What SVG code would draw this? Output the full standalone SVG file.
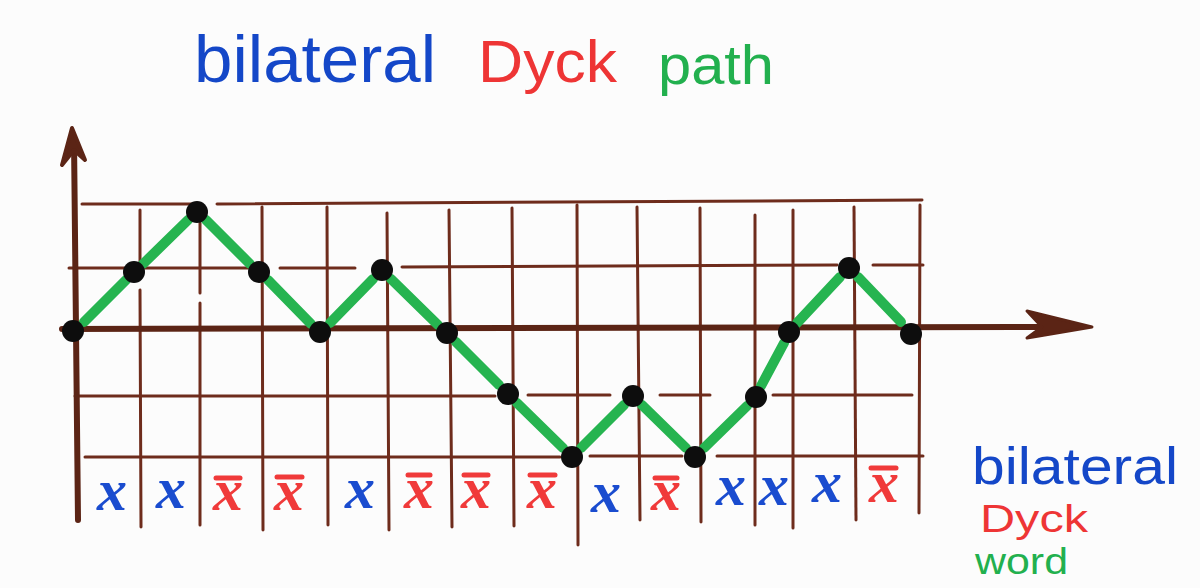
<svg xmlns="http://www.w3.org/2000/svg" width="1200" height="588" viewBox="0 0 1200 588">
<style>
.g{stroke:#6e2c1c;stroke-width:3;stroke-linecap:round;fill:none}
.ax{stroke:#5b2415;stroke-width:6;stroke-linecap:round;fill:none}
.seg{stroke:#26b450;stroke-width:10;stroke-linecap:round}
.dot{fill:#0d0d0d}
.lx{font-family:"Liberation Serif",serif;font-style:italic;font-weight:bold;font-size:60px;text-anchor:middle}
.b{fill:#1a4ccf}
.r{fill:#f03a3a}
.bar{stroke:#f03a3a;stroke-width:5;stroke-linecap:round}
.t{font-family:"Liberation Sans",sans-serif}
</style>
<rect width="1200" height="588" fill="#fcfcfc"/>
<g id="grid">
<path class="g" d="M82,204 L195,204 M217,204 L922,200"/>
<path class="g" d="M69,268 L248,268 M280,268 L355,268 M402,267 L837,265 M873,265 L923,265"/>
<path class="g" d="M75,396 L495,396 M528,395 L610,395 M660,395 L710,395 M773,395 L912,395"/>
<path class="g" d="M85,457 L560,457 M590,456 L682,456 M717,456 L923,456"/>
<path class="g" d="M140,210 L140,263 M140,290 L141,527"/>
<path class="g" d="M200,223 L200,293 M200,303 L200,525"/>
<path class="g" d="M262,207 L263,530"/>
<path class="g" d="M327,207 L328,525"/>
<path class="g" d="M387,213 L389,530"/>
<path class="g" d="M449,210 L452,527"/>
<path class="g" d="M512,208 L514,526"/>
<path class="g" d="M577,205 L578,545"/>
<path class="g" d="M637,207 L640,520"/>
<path class="g" d="M700,208 L701,522"/>
<path class="g" d="M755,215 L755,525"/>
<path class="g" d="M793,210 L793,528"/>
<path class="g" d="M854,207 L856,520"/>
<path class="g" d="M920,205 L919,513"/>
</g>
<g id="axes">
<path class="ax" d="M78,520 L74,140"/>
<path d="M62,165 L72,128 L85,160 L74,150 Z" fill="#5b2415" stroke="#5b2415" stroke-width="4" stroke-linejoin="round"/>
<path class="ax" d="M62,329 L1060,327"/>
<path d="M1027,311 L1092,327 L1027,338 L1042,327 Z" fill="#5b2415" stroke="#5b2415" stroke-width="3" stroke-linejoin="round"/>
</g>
<g id="connectors">
<line class="seg" x1="84" y1="322" x2="126" y2="280"/>
<line class="seg" x1="143" y1="264" x2="188" y2="220"/>
<line class="seg" x1="206" y1="220" x2="250" y2="264"/>
<line class="seg" x1="268" y1="280" x2="311" y2="324"/>
<line class="seg" x1="330" y1="323" x2="373" y2="279"/>
<line class="seg" x1="391" y1="279" x2="438" y2="325"/>
<line class="seg" x1="456" y1="342" x2="499" y2="385"/>
<line class="seg" x1="517" y1="403" x2="563" y2="448"/>
<line class="seg" x1="581" y1="448" x2="624" y2="405"/>
<line class="seg" x1="642" y1="405" x2="686" y2="448"/>
<line class="seg" x1="704" y1="448" x2="747" y2="406"/>
<line class="seg" x1="761" y1="386" x2="784" y2="343"/>
<line class="seg" x1="797" y1="323" x2="840" y2="277"/>
<line class="seg" x1="858" y1="277" x2="901" y2="322"/>
</g>
<g id="p0"><circle class="dot" cx="73" cy="331" r="11"/></g>
<g id="p1"><circle class="dot" cx="134" cy="272" r="11"/></g>
<g id="p2"><circle class="dot" cx="197" cy="212" r="11"/></g>
<g id="p3"><circle class="dot" cx="259" cy="272" r="11"/></g>
<g id="p4"><circle class="dot" cx="320" cy="332" r="11"/></g>
<g id="p5"><circle class="dot" cx="382" cy="270" r="11"/></g>
<g id="p6"><circle class="dot" cx="447" cy="333" r="11"/></g>
<g id="p7"><circle class="dot" cx="508" cy="394" r="11"/></g>
<g id="p8"><circle class="dot" cx="572" cy="457" r="11"/></g>
<g id="p9"><circle class="dot" cx="633" cy="396" r="11"/></g>
<g id="p10"><circle class="dot" cx="695" cy="457" r="11"/></g>
<g id="p11"><circle class="dot" cx="756" cy="397" r="11"/></g>
<g id="p12"><circle class="dot" cx="789" cy="332" r="11"/></g>
<g id="p13"><circle class="dot" cx="849" cy="268" r="11"/></g>
<g id="p14"><circle class="dot" cx="911" cy="334" r="11"/></g>
<g id="word-letters">
<text class="lx b" x="112" y="510">x</text>
<text class="lx b" x="171" y="508">x</text>
<text class="lx r" x="228" y="510">x</text><line class="bar" x1="216" y1="478" x2="240" y2="478"/>
<text class="lx r" x="289" y="510">x</text><line class="bar" x1="277" y1="477" x2="302" y2="477"/>
<text class="lx b" x="360" y="508">x</text>
<text class="lx r" x="419" y="508">x</text><line class="bar" x1="408" y1="475" x2="430" y2="475"/>
<text class="lx r" x="476" y="508">x</text><line class="bar" x1="464" y1="475" x2="488" y2="475"/>
<text class="lx r" x="542" y="508">x</text><line class="bar" x1="530" y1="475" x2="555" y2="475"/>
<text class="lx b" x="606" y="512">x</text>
<text class="lx r" x="666" y="510">x</text><line class="bar" x1="655" y1="478" x2="677" y2="478"/>
<text class="lx b" x="731" y="505">x</text>
<text class="lx b" x="774" y="505">x</text>
<text class="lx b" x="827" y="502">x</text>
<text class="lx r" x="884" y="502">x</text><line class="bar" x1="871" y1="468" x2="896" y2="468"/>
</g>
<g id="title">
<text class="t" x="194" y="82" font-size="66" fill="#1447c8" textLength="242" lengthAdjust="spacingAndGlyphs">bilateral</text>
<text class="t" x="478" y="82" font-size="60" fill="#ee3535" textLength="139" lengthAdjust="spacingAndGlyphs">Dyck</text>
<text class="t" x="658" y="84" font-size="56" fill="#22b04e" textLength="116" lengthAdjust="spacingAndGlyphs">path</text>
</g>
<g id="legend">
<text class="t" x="972" y="484" font-size="52" fill="#1447c8" textLength="206" lengthAdjust="spacingAndGlyphs">bilateral</text>
<text class="t" x="980" y="532" font-size="38" fill="#ee3535" textLength="108" lengthAdjust="spacingAndGlyphs">Dyck</text>
<text class="t" x="975" y="574" font-size="36" fill="#22b04e" textLength="93" lengthAdjust="spacingAndGlyphs">word</text>
</g>
</svg>
